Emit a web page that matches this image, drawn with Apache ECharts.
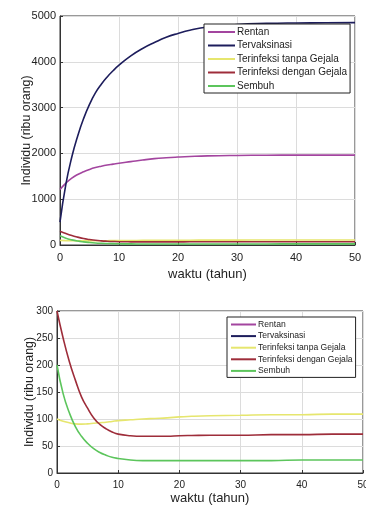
<!DOCTYPE html>
<html>
<head>
<meta charset="utf-8">
<script src="https://cdn.jsdelivr.net/npm/echarts@6/dist/echarts.min.js"></script>
<style>
  html, body { margin: 0; padding: 0; background: #fff; }
  #chart { width: 366px; height: 505px; }
</style>
</head>
<body>
<div id="chart"></div>
<script>
// waktu (tahun)
const waktu = [0, 1, 2, 3, 4, 5, 6, 7, 8, 9, 10, 12, 14, 16, 18, 20, 22, 25, 30, 35, 40, 45, 50]

const rentan = [1210, 1350, 1460, 1540, 1600, 1650, 1690, 1720, 1745, 1765, 1785, 1820, 1855, 1885, 1905, 1920, 1932, 1945, 1955, 1960, 1962, 1963, 1963]
const tervaksinasi = [500, 1330, 1920, 2380, 2760, 3070, 3320, 3510, 3670, 3805, 3925, 4130, 4290, 4420, 4535, 4620, 4690, 4760, 4815, 4838, 4848, 4852, 4855]
const tanpaGejala = [100, 96, 93, 91, 90.5, 91, 92, 93, 94, 95.5, 97, 98.5, 100, 101, 102, 104, 105, 106, 107, 108, 108, 109, 109]
const denganGejala = [300, 250, 207, 172, 141, 120, 102, 90, 82, 76, 72, 69, 68, 68, 68, 69, 69.5, 70, 70, 71, 71, 72, 72]
const sembuh = [200, 147, 112, 86, 68, 55, 45, 38, 33, 29, 27, 24, 23, 23, 23, 23, 23, 23, 23, 23, 24, 24, 24]

const seriesNames = ['Rentan', 'Tervaksinasi', 'Terinfeksi tanpa Gejala', 'Terinfeksi dengan Gejala', 'Sembuh']
const seriesData = [rentan, tervaksinasi, tanpaGejala, denganGejala, sembuh]
const colors = ['#a3459f', '#1d1d5c', '#e6e66e', '#9e2d3a', '#5cc55c']

const xRange = { min: 0, max: 50, interval: 10 }
const yTop = { min: 0, max: 5000, interval: 1000 }
const yBottom = { min: 0, max: 300, interval: 50 }

const font = 'Liberation Sans, Arial, sans-serif'

const chart = echarts.init(document.getElementById('chart'))

const makeX = (gridIndex, labelSize, nameGap) => ({
  type: 'value',
  gridIndex,
  min: xRange.min,
  max: xRange.max,
  interval: xRange.interval,
  name: 'waktu (tahun)',
  nameLocation: 'middle',
  nameGap,
  nameMoveOverlap: false,
  nameTextStyle: { color: '#222', fontSize: 13, fontFamily: font },
  axisLine: { show: true, onZero: false, lineStyle: { color: '#333' } },
  axisTick: { show: true, inside: true, length: 3, lineStyle: { color: '#333' } },
  axisLabel: { color: '#222', fontSize: labelSize, fontFamily: font, margin: 7 },
  splitLine: { show: true, lineStyle: { color: '#dcdcdc' } }
})

const makeY = (gridIndex, range, labelSize, nameGap) => ({
  type: 'value',
  gridIndex,
  min: range.min,
  max: range.max,
  interval: range.interval,
  name: 'Individu (ribu orang)',
  nameLocation: 'middle',
  nameGap,
  nameMoveOverlap: false,
  nameTextStyle: { color: '#222', fontSize: 12.4, fontFamily: font },
  axisLine: { show: true, lineStyle: { color: '#333' } },
  axisTick: { show: true, inside: true, length: 3, lineStyle: { color: '#333' } },
  axisLabel: { color: '#222', fontSize: labelSize, fontFamily: font, margin: 4, formatter: v => String(v) },
  splitLine: { show: true, lineStyle: { color: '#dcdcdc' } }
})

const makeLegend = (left, top, fontSize, gap, width) => ({
  orient: 'vertical',
  left,
  top,
  data: seriesNames,
  icon: 'rect',
  itemWidth: width,
  itemHeight: 2,
  itemGap: gap,
  padding: [3, 3, 2, 4],
  backgroundColor: '#fff',
  borderColor: '#222',
  borderWidth: 1,
  borderRadius: 0,
  selectedMode: false,
  textStyle: { color: '#222', fontSize, fontFamily: font, padding: [0, 0, 0, -3] }
})

const makeSeries = (gridIndex) => seriesNames.map((name, i) => ({
  name,
  type: 'line',
  xAxisIndex: gridIndex,
  yAxisIndex: gridIndex,
  smooth: true,
  showSymbol: false,
  clip: true,
  data: waktu.map((t, k) => [t, seriesData[i][k]]),
  lineStyle: { width: 1.6, color: colors[i] },
  itemStyle: { color: colors[i] }
}))

chart.setOption({
  animation: false,
  backgroundColor: '#fff',
  grid: [
    { left: 60, right: 11, top: 16, height: 229, show: true, borderColor: '#333', borderWidth: 1, outerBoundsMode: 'none' },
    { left: 57, right: 3, top: 311, height: 162, show: true, borderColor: '#333', borderWidth: 1, outerBoundsMode: 'none' }
  ],
  xAxis: [makeX(0, 11, 23), makeX(1, 10, 19)],
  yAxis: [makeY(0, yTop, 11, 27), makeY(1, yBottom, 10, 21)],
  legend: [makeLegend(204, 24, 10, 3.5, 27), makeLegend(227, 317, 8.6, 2.6, 25)],
  series: [...makeSeries(0), ...makeSeries(1)]
})
</script>
</body>
</html>
